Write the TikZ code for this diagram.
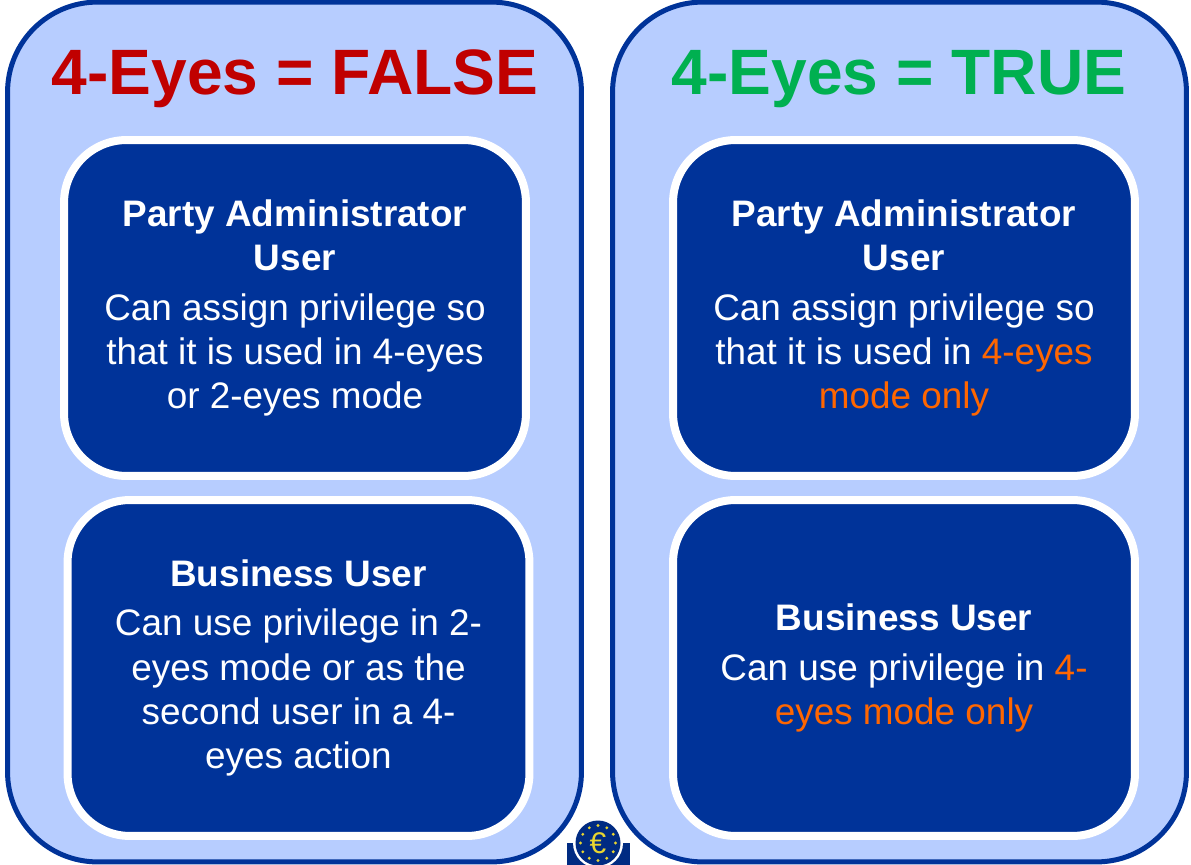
\documentclass[tikz,border=0pt]{standalone}
\usepackage{fontspec}
\setmainfont{Liberation Sans}
\usepackage{xcolor}
\definecolor{ecbnavy}{HTML}{003399}
\definecolor{panelblue}{HTML}{B7CDFF}
\definecolor{falsered}{HTML}{C00000}
\definecolor{truegreen}{HTML}{00B050}
\definecolor{onlyorange}{HTML}{FF6600}
\definecolor{logoyellow}{HTML}{E8D530}
\newcommand{\only}[1]{\textcolor{onlyorange}{#1}}
\tikzset{
  panel/.style={draw=ecbnavy,fill=panelblue,line width=0.1cm,rounded corners=1.8cm,
    minimum width=11.48cm,minimum height=17.2cm,inner sep=0},
  usercard/.style={draw=white,fill=ecbnavy,line width=0.16cm,rounded corners=1.25cm,
    minimum width=9.24cm,minimum height=6.72cm,text=white,align=center,inner sep=0,
    font=\fontsize{21}{25.2}\selectfont},
  heading/.style={font=\fontsize{36.5}{40}\selectfont\bfseries,inner sep=0}
}
\begin{document}
\begin{tikzpicture}[x=0.02cm,y=-0.02cm]
\useasboundingbox (0,0) rectangle (1191,865);

\begin{scope}
\clip (0,0) rectangle (1191,865);
\node[panel] (falsepanel) at (294.5,432) {};
\node[panel] (truepanel) at (899.5,432) {};
\end{scope}

\node[heading,text=falsered] (falsetitle) at (295,79) {4-Eyes = FALSE};
\node[heading,text=truegreen] (truetitle) at (899,79) {4-Eyes = TRUE};

\node[usercard] (falseadmin) at (295,308) {\textbf{Party Administrator}\\\textbf{User}\\[0.1cm]Can assign privilege so\\that it is used in 4-eyes\\or 2-eyes mode};
\node[usercard] (falsebusiness) at (298.5,668) {\textbf{Business User}\\[0.1cm]Can use privilege in 2-\\eyes mode or as the\\second user in a 4-\\eyes action};
\node[usercard] (trueadmin) at (904,308) {\textbf{Party Administrator}\\\textbf{User}\\[0.1cm]Can assign privilege so\\that it is used in \only{4-eyes}\\\only{mode only}};
\node[usercard] (truebusiness) at (904,668) {\textbf{Business User}\\[0.1cm]Can use privilege in \only{4-}\\\only{eyes mode only}};

% logo
\fill[ecbnavy!85!black] (567,843) rectangle (630,865);
\fill[white] (598,843) circle (25);
\fill[ecbnavy!85!black] (598,843) circle (22.5);
\foreach \a in {0,30,...,330}{
  \fill[logoyellow] (598,843) ++(\a:17.5) circle (1.6);
}
\node[text=logoyellow,inner sep=0,font=\fontsize{17}{17}\selectfont] (eurosign) at (598,843) {€};
\end{tikzpicture}
\end{document}
